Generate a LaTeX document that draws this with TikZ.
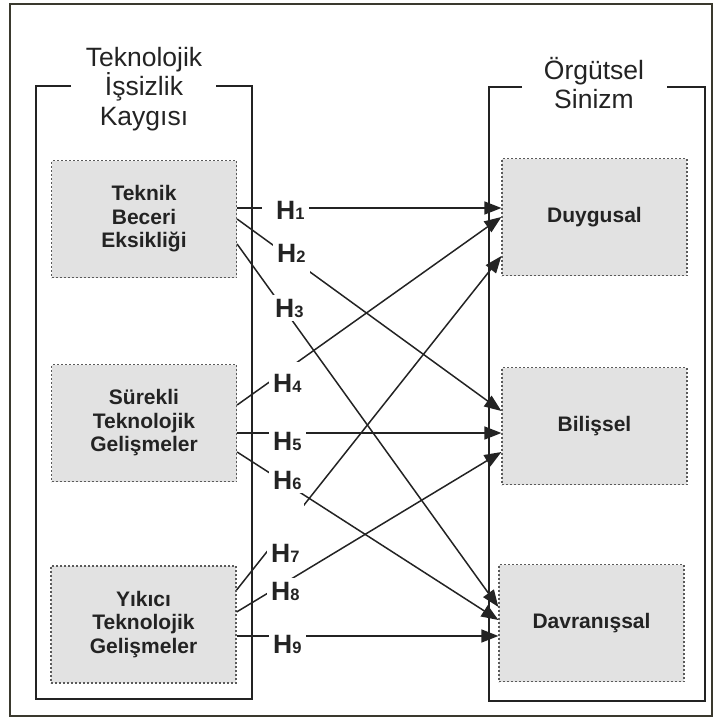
\documentclass[tikz,border=0pt]{standalone}
\usepackage{fontspec}
\setmainfont{Liberation Sans}
\usetikzlibrary{arrows.meta}
\definecolor{ink}{HTML}{232323}
\definecolor{boxfill}{HTML}{E2E2E2}
\definecolor{framecol}{HTML}{3A392E}
\newcommand{\Hlab}[1]{H{\fontsize{16.5}{16.5}\selectfont #1}}
\begin{document}
\begin{tikzpicture}[x=1pt,y=-1pt,
  innerbox/.style={draw=ink!75, dash pattern=on 2pt off 2pt, line width=1.2pt, fill=boxfill,
    minimum width=185pt, minimum height=117pt, inner sep=0pt,
    font=\bfseries\fontsize{21}{23.5}\selectfont, align=center, text=ink},
  grp/.style={draw=ink, line width=1.6pt},
  ttl/.style={font=\fontsize{26.5}{29.7}\selectfont, align=center, text=ink, inner sep=0pt},
  hyp/.style={-{Triangle[length=17pt,width=13pt]}, draw=ink, line width=1.5pt},
  hlab/.style={fill=white, inner xsep=4pt, inner ysep=4pt, anchor=base west,
    font=\bfseries\fontsize{26.5}{26.5}\selectfont, text=ink}]
\useasboundingbox (0,0) rectangle (716,718);
\draw[framecol, line width=2pt] (10,4) rectangle (712,716);

% group frames (open at the title)
\draw[grp] (71,86) -- (36,86) -- (36,699) -- (252,699) -- (252,86) -- (216,86);
\draw[grp] (522,87) -- (489,87) -- (489,701) -- (705,701) -- (705,87) -- (667,87);

\node[ttl] (tl) at (144,89) {Teknolojik\\İşsizlik\\Kaygısı};
\node[ttl] (tr) at (594,83) {Örgütsel\\Sinizm};

% inner boxes
\node[innerbox] (b1) at (144,219) {Teknik\\Beceri\\Eksikliği};
\node[innerbox] (b2) at (144,423) {Sürekli\\Teknolojik\\Gelişmeler};
\node[innerbox] (b3) at (143.5,624.5) {Yıkıcı\\Teknolojik\\Gelişmeler};
\node[innerbox] (d) at (594.5,217) {Duygusal};
\node[innerbox] (bi) at (594.5,426) {Bilişsel};
\node[innerbox] (dv) at (591.5,623) {Davranışsal};

% hypotheses
\draw[hyp] (b1.east |- 0,208) -- (d.west |- 0,208);
\draw[hyp] (b1.east |- 0,219) -- (bi.west |- 0,411);
\draw[hyp] (b1.east |- 0,244) -- (dv.west |- 0,607);
\draw[hyp] (b2.east |- 0,405) -- (d.west |- 0,217);
\draw[hyp] (b2.east |- 0,433) -- (bi.west |- 0,433);
\draw[hyp] (b2.east |- 0,452) -- (dv.west |- 0,620);
\draw[hyp] (b3.east |- 0,590) -- (d.west |- 0,256);
\draw[hyp] (b3.east |- 0,612) -- (bi.west |- 0,452);
\draw[hyp] (b3.east |- 0,636) -- (dv.west |- 0,636);

% labels
\node[hlab] (h1) at (262,219) {\hspace*{10pt}\Hlab{1}};
\node[hlab, text depth=16pt] (h2) at (273,262) {\Hlab{2}};
\node[hlab] (h3) at (271,317) {\Hlab{3}};
\node[hlab, text height=26pt] (h4) at (269,392) {\Hlab{4}};
\node[hlab] (h5) at (269,450) {\Hlab{5}};
\node[hlab] (h6) at (269,489) {\Hlab{6}};
\node[hlab, text height=56pt] (h7) at (267,562) {\Hlab{7}};
\node[hlab] (h8) at (267,600) {\Hlab{8}};
\node[hlab] (h9) at (269,653) {\Hlab{9}};
\end{tikzpicture}
\end{document}
